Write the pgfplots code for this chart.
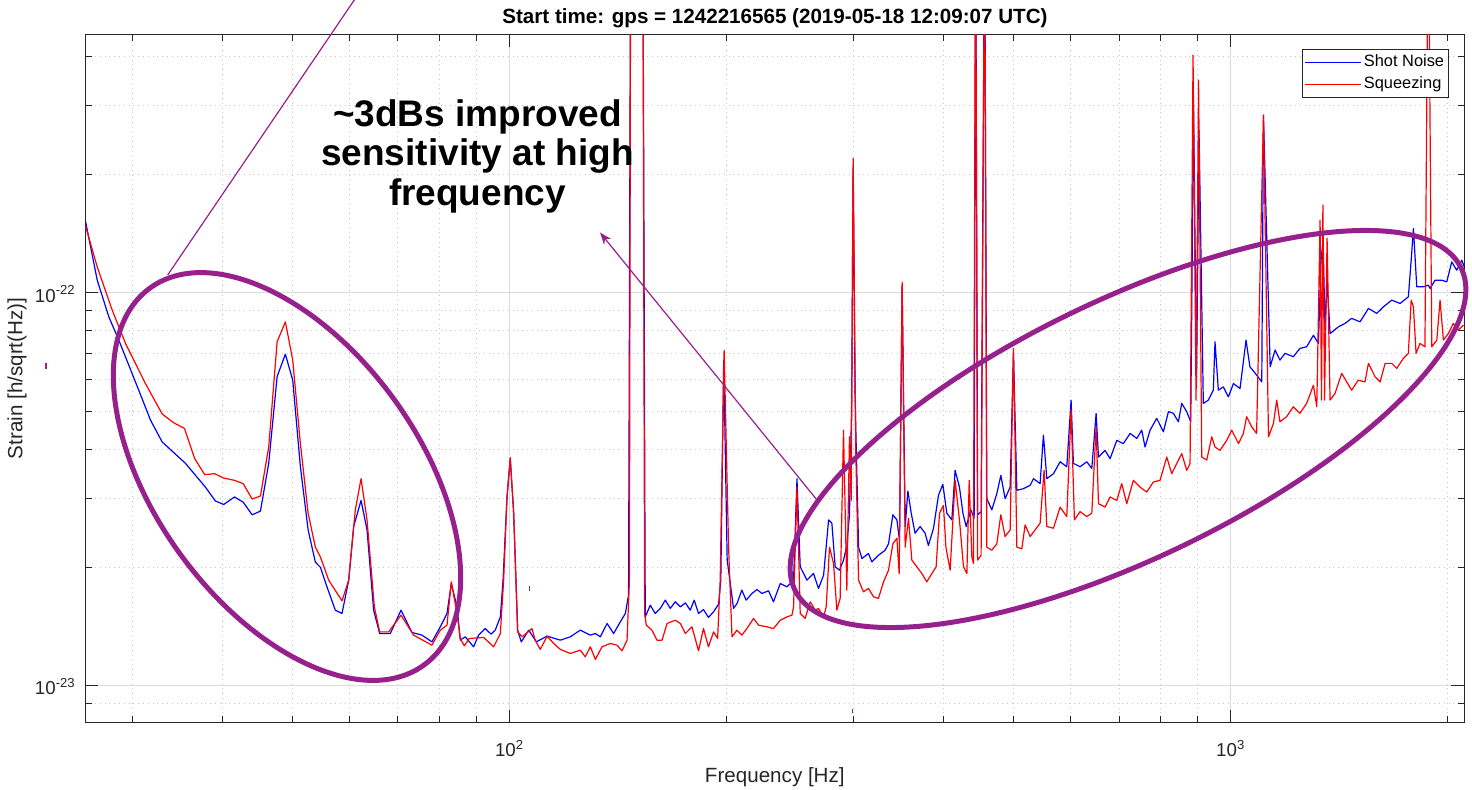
\documentclass[border=0pt]{standalone}
\usepackage{fontspec}
\setmainfont{Liberation Sans}
\usepackage{pgfplots}
\pgfplotsset{compat=1.18}
\usetikzlibrary{arrows.meta}
\definecolor{annot}{RGB}{150,32,140}
\definecolor{axgray}{RGB}{38,38,38}
\begin{document}
\begin{tikzpicture}
\begin{axis}[
  at={(0,0)}, anchor=south west,
  scale only axis, width=689.5pt, height=344.35pt,
  xmode=log, ymode=log,
  xmin=25.8, xmax=2108, ymin=8.03e-24, ymax=4.56e-22,
  xtick={100,1000}, xticklabels={10\textsuperscript{2},10\textsuperscript{3}},
  minor xtick={30,40,50,60,70,80,90,200,300,400,500,600,700,800,900,2000},
  ytick={1e-23,1e-22}, yticklabels={10\textsuperscript{-23},10\textsuperscript{-22}},
  minor ytick={9e-24,2e-23,3e-23,4e-23,5e-23,6e-23,7e-23,8e-23,9e-23,2e-22,3e-22,4e-22},
  tick align=inside, xtick pos=both, ytick pos=both,
  major tick length=6.5pt, minor tick length=3.3pt,
  tick style={color=axgray, line width=0.5pt},
  axis line style={color=axgray, line width=0.5pt},
  grid=both,
  major grid style={solid, color=black!14, line width=0.5pt},
  minor grid style={dotted, color=black!22, line width=0.45pt},
  ticklabel style={font=\fontsize{9.35}{11}\selectfont, text=axgray},
  xticklabel style={anchor=center, yshift=-12.9pt},
  yticklabel style={anchor=east, inner sep=0pt, xshift=-4.6pt, yshift=-0.6pt},
  xlabel={Frequency [Hz]}, ylabel={Strain [h/sqrt(Hz)]},
  label style={font=\fontsize{10.3}{12}\selectfont, text=axgray},
  xlabel style={at={(axis description cs:0.5,-0.0788)}, anchor=center},
  ylabel style={at={(axis description cs:-0.0495,0.5)}, anchor=center},
  legend style={at={(axis description cs:0.9891,0.9778)}, anchor=north east, draw=axgray, line width=0.5pt, fill=white,
    font=\fontsize{8.2}{9.8}\selectfont, inner xsep=1pt, inner ysep=0.8pt, row sep=0pt, cells={anchor=west},
    nodes={inner xsep=1.35pt, inner ysep=1.5pt, text height=6.2pt, text depth=1.8pt}},
  legend image code/.code={\draw[#1, line width=0.6pt] (0pt,0pt) -- (27.8pt,0pt);},
  every axis plot/.append style={line width=0.6pt, line join=round},
]
\addplot[color={rgb,255:red,0;green,0;blue,255}] coordinates {
(25.8,1.531e-22) (26.80,1.077e-22) (27.81,8.69e-23) (28.71,7.58e-23) (30.60,5.65e-23) (31.77,4.74e-23)
(32.98,4.17e-23) (35.52,3.68e-23) (37.86,3.20e-23) (39.09,2.95e-23) (40.14,2.89e-23) (41.54,3.02e-23)
(42.71,2.93e-23) (43.95,2.72e-23) (45.13,2.78e-23) (46.34,3.68e-23) (47.60,6.12e-23) (48.87,6.98e-23)
(50.03,5.99e-23) (51.27,3.61e-23) (52.55,2.49e-23) (53.78,2.06e-23) (54.65,2.00e-23) (55.83,1.78e-23)
(57.32,1.555e-23) (58.56,1.525e-23) (59.82,1.854e-23) (60.78,2.54e-23) (62.23,2.96e-23) (63.43,2.49e-23)
(64.78,1.555e-23) (66.04,1.356e-23) (68.33,1.356e-23) (70.70,1.555e-23) (73.22,1.364e-23) (75.60,1.343e-23)
(78.05,1.291e-23) (80.15,1.41e-23) (81.88,1.525e-23) (83.01,1.818e-23) (84.54,1.585e-23) (85.43,1.304e-23)
(86.80,1.33e-23) (89.13,1.254e-23) (90.57,1.343e-23) (92.52,1.396e-23) (94.23,1.351e-23) (95.52,1.383e-23)
(97.08,1.495e-23) (97.92,1.854e-23) (99.17,3.02e-23) (100.2,3.78e-23) (101.3,2.75e-23) (102.6,1.383e-23)
(103.8,1.291e-23) (106.3,1.383e-23) (108.9,1.291e-23) (112.7,1.335e-23) (117.6,1.304e-23) (121.4,1.33e-23)
(125.3,1.383e-23) (129.4,1.343e-23) (131.5,1.356e-23) (133.6,1.33e-23) (136.5,1.438e-23) (139.4,1.356e-23)
(142.4,1.452e-23) (144.7,1.525e-23) (146.2,1.698e-23) (147.2,1e-21) (153.0,1e-21) (154.2,1.495e-23)
(156.7,1.601e-23) (159.2,1.525e-23) (161.8,1.571e-23) (164.4,1.649e-23) (167.0,1.571e-23) (169.7,1.633e-23)
(172.5,1.585e-23) (175.3,1.623e-23) (178.0,1.555e-23) (180.3,1.649e-23) (182.8,1.525e-23) (185.7,1.561e-23)
(188.7,1.49e-23) (191.8,1.54e-23) (194.9,1.611e-23) (196.3,1.854e-23) (198.1,6.74e-23) (200.3,2.085e-23)
(202.3,1.818e-23) (204.4,1.571e-23) (206.7,1.617e-23) (209.9,1.749e-23) (212.8,1.649e-23) (216.8,1.715e-23)
(220.3,1.755e-23) (223.8,1.715e-23) (228.6,1.742e-23) (232.2,1.633e-23) (237.3,1.818e-23) (242.4,1.783e-23)
(247.6,1.854e-23) (250.3,3.36e-23) (252.9,2.005e-23) (258.4,1.854e-23) (263.9,1.928e-23) (268.1,1.766e-23)
(272.5,1.909e-23) (276.9,2.64e-23) (279.8,2.59e-23) (282.8,2.005e-23) (286.7,1.966e-23) (290.4,2.085e-23)
(293.5,2.27e-23) (296.0,2.72e-23) (298.1,5.33e-23) (299.5,2.115e-22) (301.4,5.33e-23) (304.7,2.25e-23)
(308.0,2.105e-23) (314.5,2.168e-23) (317.9,2.064e-23) (324.7,2.146e-23) (331.7,2.21e-23) (335.3,2.295e-23)
(340.0,2.72e-23) (344.4,2.64e-23) (347.3,2.34e-23) (350.2,1.046e-22) (353.6,2.54e-23) (356.7,3.127e-23)
(360.5,2.746e-23) (365.0,2.442e-23) (370.9,2.54e-23) (376.8,2.442e-23) (380.9,2.272e-23) (387.1,2.514e-23)
(393.3,3.049e-23) (398.8,3.253e-23) (403.9,2.746e-23) (410.4,2.64e-23) (414.7,3.53e-23) (420.5,3.20e-23)
(425.2,2.746e-23) (429.6,2.54e-23) (436.1,2.80e-23) (440.7,2.667e-23) (442.8,1e-21) (445.6,2.72e-23)
(450.6,2.767e-23) (455.7,1e-21) (458.9,2.99e-23) (466.3,2.80e-23) (473.8,3.08e-23) (479.9,3.428e-23)
(486.5,2.99e-23) (494.4,3.20e-23) (499.6,7.01e-23) (505.1,3.14e-23) (515.8,3.17e-23) (527.0,3.234e-23)
(532.6,3.362e-23) (544.0,3.266e-23) (549.8,4.34e-23) (555.8,3.362e-23) (567.7,3.462e-23) (579.9,3.713e-23)
(592.4,3.606e-23) (600.6,5.33e-23) (605.0,3.678e-23) (618.1,3.606e-23) (631.5,3.713e-23) (641.7,3.57e-23)
(650.6,4.93e-23) (655.5,3.817e-23) (669.4,3.97e-23) (680.3,3.781e-23) (695.0,4.21e-23) (709.7,4.129e-23)
(725.1,4.384e-23) (740.8,4.257e-23) (752.6,4.47e-23) (760.6,4.048e-23) (772.9,4.47e-23) (789.6,4.79e-23)
(806.4,4.426e-23) (819.4,4.98e-23) (832.5,4.933e-23) (846.0,4.693e-23) (855.1,5.228e-23) (868.9,4.98e-23)
(880.0,4.693e-23) (888.0,3.007e-22) (896.5,5.99e-23) (903.6,2.596e-22) (916.1,5.228e-23) (930.9,5.33e-23)
(945.8,5.65e-23) (950.9,7.505e-23) (961.1,5.65e-23) (976.5,5.76e-23) (992.3,5.432e-23) (1008.5,5.875e-23)
(1030,5.705e-23) (1050,7.58e-23) (1063,6.48e-23) (1086,6.176e-23) (1104,5.93e-23) (1110,2.836e-22)
(1134,6.48e-23) (1152,7.15e-23) (1170,6.74e-23) (1189,7.013e-23) (1221,6.875e-23) (1247,7.219e-23)
(1274,7.288e-23) (1302,7.798e-23) (1323,7.434e-23) (1334,1.211e-22) (1343,1.362e-22) (1351,8.03e-23)
(1360,1.077e-22) (1373,7.876e-23) (1410,8.19e-23) (1440,8.356e-23) (1471,8.61e-23) (1511,8.436e-23)
(1552,9.124e-23) (1594,8.867e-23) (1628,9.211e-23) (1672,9.58e-23) (1717,9.396e-23) (1763,9.769e-23)
(1779,1.211e-22) (1792,1.458e-22) (1811,1.036e-22) (1849,1.036e-22) (1879,1.046e-22) (1890,1.026e-22)
(1920,1.077e-22) (1962,1.077e-22) (1993,1.066e-22) (2025,1.199e-22) (2057,1.142e-22) (2091,1.211e-22)
(2108,1.164e-22)
};
\addlegendentry{Shot Noise}
\addplot[color={rgb,255:red,255;green,0;blue,0}] coordinates {
(25.8,1.487e-22) (26.80,1.164e-22) (28.11,9.04e-23) (29.33,7.434e-23) (31.26,5.875e-23) (32.98,4.913e-23)
(34.22,4.666e-23) (35.41,4.514e-23) (36.59,3.781e-23) (37.78,3.442e-23) (39.00,3.462e-23) (40.14,3.374e-23)
(41.54,3.33e-23) (42.71,3.266e-23) (43.95,2.984e-23) (45.13,3.037e-23) (46.34,4.048e-23) (47.60,7.505e-23)
(48.87,8.436e-23) (50.03,6.74e-23) (51.27,4.129e-23) (52.55,2.746e-23) (53.78,2.25e-23) (54.65,2.125e-23)
(56.12,1.854e-23) (58.56,1.642e-23) (59.82,1.854e-23) (61.10,2.80e-23) (62.23,3.362e-23) (63.43,2.64e-23)
(64.93,1.585e-23) (66.04,1.369e-23) (67.96,1.369e-23) (70.70,1.51e-23) (73.60,1.343e-23) (78.05,1.266e-23)
(80.15,1.383e-23) (81.88,1.424e-23) (83.01,1.836e-23) (84.54,1.525e-23) (85.43,1.317e-23) (86.53,1.261e-23)
(87.92,1.317e-23) (92.03,1.325e-23) (95.02,1.254e-23) (97.08,1.356e-23) (98.11,1.854e-23) (99.17,3.02e-23)
(100.2,3.804e-23) (101.3,2.746e-23) (102.6,1.369e-23) (104.1,1.33e-23) (107.4,1.396e-23) (108.5,1.304e-23)
(110.3,1.235e-23) (112.7,1.335e-23) (115.1,1.279e-23) (117.6,1.235e-23) (121.4,1.206e-23) (125.3,1.23e-23)
(127.3,1.183e-23) (129.4,1.254e-23) (131.5,1.165e-23) (134.3,1.254e-23) (137.9,1.279e-23) (140.9,1.266e-23)
(143.2,1.225e-23) (145.5,1.304e-23) (146.6,1.854e-23) (147.2,1e-21) (153.0,1e-21) (153.9,1.525e-23)
(154.7,1.424e-23) (157.5,1.383e-23) (160.1,1.304e-23) (162.7,1.304e-23) (165.3,1.438e-23) (169.7,1.466e-23)
(172.5,1.438e-23) (175.3,1.356e-23) (179.0,1.41e-23) (182.8,1.225e-23) (185.7,1.396e-23) (188.7,1.254e-23)
(191.8,1.369e-23) (194.3,1.317e-23) (195.9,1.854e-23) (198.4,7.15e-23) (201.2,2.25e-23) (203.4,1.33e-23)
(206.7,1.383e-23) (209.9,1.343e-23) (213.3,1.396e-23) (217.9,1.481e-23) (221.4,1.424e-23) (227.4,1.41e-23)
(232.2,1.396e-23) (237.3,1.466e-23) (242.4,1.495e-23) (246.3,1.51e-23) (247.6,1.585e-23) (250.3,3.20e-23)
(252.9,1.525e-23) (256.9,1.481e-23) (261.1,1.633e-23) (265.3,1.555e-23) (268.1,1.571e-23) (272.5,1.495e-23)
(274.8,1.585e-23) (277.7,2.25e-23) (281.3,2.045e-23) (284.3,1.555e-23) (287.3,1.666e-23) (290.4,4.47e-23)
(293.5,1.749e-23) (296.0,4.298e-23) (297.6,2.96e-23) (299.5,2.20e-22) (302.0,3.97e-23) (304.7,1.854e-23)
(309.5,1.732e-23) (314.5,1.766e-23) (319.6,1.682e-23) (324.7,1.666e-23) (330.0,1.836e-23) (335.3,1.966e-23)
(340.0,2.295e-23) (344.4,2.371e-23) (346.9,1.928e-23) (350.2,1.065e-22) (353.6,2.25e-23) (357.4,2.667e-23)
(361.2,2.085e-23) (367.1,2.005e-23) (372.9,1.928e-23) (378.9,1.836e-23) (385.1,1.928e-23) (390.4,2.005e-23)
(394.6,2.746e-23) (399.6,2.874e-23) (402.7,2.25e-23) (408.2,1.966e-23) (414.7,3.33e-23) (420.5,2.64e-23)
(426.0,2.005e-23) (430.6,1.928e-23) (433.8,3.33e-23) (437.5,2.125e-23) (439.7,2.045e-23) (442.8,1e-21)
(445.6,2.085e-23) (450.6,2.146e-23) (455.7,1e-21) (458.9,2.25e-23) (466.3,2.21e-23) (473.8,2.295e-23)
(479.9,2.72e-23) (486.5,2.394e-23) (494.4,2.49e-23) (499.6,7.219e-23) (505.1,2.25e-23) (513.2,2.229e-23)
(518.6,2.564e-23) (527.0,2.394e-23) (535.4,2.49e-23) (544.0,2.589e-23) (551.0,3.53e-23) (555.8,2.54e-23)
(567.7,2.514e-23) (579.9,2.846e-23) (592.4,2.692e-23) (600.6,5.03e-23) (607.0,2.64e-23) (618.1,2.772e-23)
(631.5,2.692e-23) (641.7,2.746e-23) (650.6,4.558e-23) (655.5,2.903e-23) (669.4,2.846e-23) (680.3,3.02e-23)
(695.0,2.96e-23) (706.1,3.266e-23) (717.5,2.903e-23) (732.8,3.33e-23) (748.6,3.20e-23) (764.8,3.109e-23)
(781.1,3.297e-23) (797.9,3.33e-23) (815.1,3.817e-23) (828.3,3.462e-23) (841.6,3.678e-23) (855.1,3.894e-23)
(868.9,3.53e-23) (878.1,3.678e-23) (886.5,4.032e-22) (895.1,5.33e-23) (902.3,3.482e-22) (911.4,3.817e-23)
(926.1,3.75e-23) (941.0,4.298e-23) (950.9,4.048e-23) (966.3,3.97e-23) (987.2,4.21e-23) (1003,4.47e-23)
(1025,4.129e-23) (1041,4.384e-23) (1052,4.836e-23) (1069,4.558e-23) (1086,4.384e-23) (1110,2.836e-22)
(1128,4.298e-23) (1146,4.649e-23) (1158,5.33e-23) (1170,4.693e-23) (1195,4.836e-23) (1221,5.125e-23)
(1247,4.933e-23) (1274,5.228e-23) (1302,5.817e-23) (1316,5.125e-23) (1330,1.531e-22) (1336,5.33e-23)
(1342,1.673e-22) (1349,5.33e-23) (1360,1.378e-22) (1373,5.33e-23) (1395,5.542e-23) (1425,6.238e-23)
(1448,5.93e-23) (1471,5.65e-23) (1502,5.99e-23) (1535,5.93e-23) (1552,6.611e-23) (1585,6.115e-23)
(1611,5.93e-23) (1637,6.611e-23) (1672,6.611e-23) (1699,6.419e-23) (1735,6.81e-23) (1763,7.013e-23)
(1779,9.58e-23) (1792,9.211e-23) (1807,7.013e-23) (1830,7.434e-23) (1859,7.288e-23) (1879,1e-21)
(1900,7.288e-23) (1931,7.58e-23) (1951,9.58e-23) (1972,7.58e-23) (2003,7.876e-23) (2035,8.356e-23)
(2068,8.03e-23) (2102,8.274e-23)
};
\addlegendentry{Squeezing}
\end{axis}
\begin{scope}[x=0.5pt,y=-0.5pt,shift={(-85.3,-722.7)}]
  \node[anchor=center, font=\bfseries\fontsize{10.3}{12}\selectfont] at (775,18.5) {Start time: gps = 1242216565 (2019-05-18 12:09:07 UTC)};
  \draw[annot, line width=2.5pt, rotate around={-54:(287,476.5)}] (287,476.5) ellipse [x radius=233, y radius=132];
  \draw[annot, line width=2.5pt, rotate around={25.8:(1128,429)}] (1128,429) ellipse [x radius=370, y radius=129];
  \draw[annot, line width=0.6pt] (167.7,275) -- (354.3,0);
  \draw[annot, line width=0.6pt, -{Stealth[length=6pt,width=4.5pt]}] (817,500) -- (600,232.5);
  \draw[annot, line width=0.8pt] (45.7,363) -- (45.7,369);
  \draw[annot, line width=0.8pt] (852.3,709) -- (852.3,713);
  \draw[annot, line width=0.8pt] (529.3,586) -- (529.3,591);
  \node[anchor=base, font=\bfseries\fontsize{18.5}{21}\selectfont] at (477.5,126) {\textasciitilde 3dBs improved};
  \node[anchor=base, font=\bfseries\fontsize{18.5}{21}\selectfont] at (477.5,165.5) {sensitivity at high};
  \node[anchor=base, font=\bfseries\fontsize{18.5}{21}\selectfont] at (477.5,205) {frequency};
  \pgfresetboundingbox
  \path[use as bounding box] (0,0) rectangle (1472,789);
\end{scope}
\end{tikzpicture}
\end{document}
